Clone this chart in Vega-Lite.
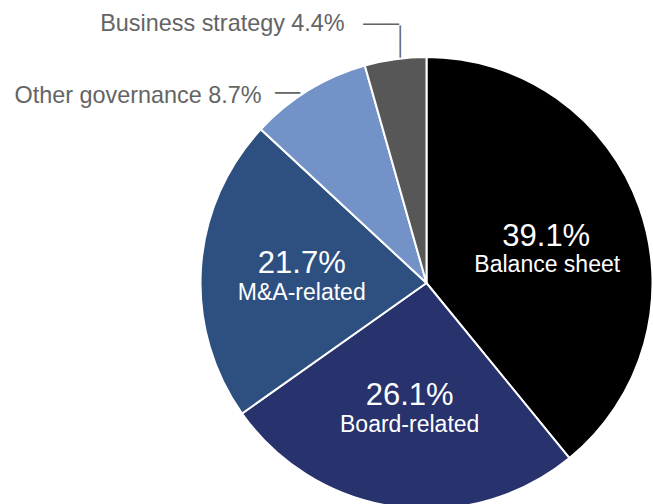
{
  "$schema": "https://vega.github.io/schema/vega-lite/v6.json",
  "autosize": {"type": "none"},
  "padding": {"left": 200, "top": 62, "right": 0, "bottom": 0},
  "width": 453,
  "height": 442,
  "background": "#ffffff",
  "config": {"view": {"stroke": null}},
  "data": {
    "values": [
      {"category": "Balance sheet", "share": 39.1},
      {"category": "Board-related", "share": 26.1},
      {"category": "M&A-related", "share": 21.7},
      {"category": "Other governance", "share": 8.7},
      {"category": "Business strategy", "share": 4.4}
    ]
  },
  "transform": [
    {"calculate": "format(datum.share, '.1f') + '%'", "as": "pctLabel"},
    {"calculate": "datum.category + ' ' + datum.pctLabel", "as": "outLabel"}
  ],
  "encoding": {
    "theta": {"field": "share", "type": "quantitative", "stack": true},
    "order": {"field": "share", "type": "quantitative", "sort": "descending"}
  },
  "layer": [
    {
      "mark": {"type": "arc", "outerRadius": 226, "stroke": "#ffffff", "strokeWidth": 2},
      "encoding": {
        "color": {
          "field": "category", "type": "nominal", "legend": null,
          "scale": {
            "domain": ["Balance sheet", "Board-related", "M&A-related", "Other governance", "Business strategy"],
            "range": ["#000000", "#28326c", "#2e5080", "#7393c8", "#575757"]
          }
        }
      }
    },
    {
      "mark": {"type": "text", "radius": 125, "font": "Liberation Sans", "fontSize": 31, "color": "#ffffff", "align": "center", "baseline": "middle", "dy": -11},
      "encoding": {
        "text": {"condition": {"test": "datum.share > 15 && datum.category != 'Balance sheet'", "field": "pctLabel"}, "value": ""}
      }
    },
    {
      "mark": {"type": "text", "radius": 125, "font": "Liberation Sans", "fontSize": 23, "color": "#ffffff", "align": "center", "baseline": "middle", "dy": 18},
      "encoding": {
        "text": {"condition": {"test": "datum.share > 15 && datum.category != 'Balance sheet'", "field": "category"}, "value": ""}
      }
    },
    {
      "mark": {"type": "text", "radius": 125, "font": "Liberation Sans", "fontSize": 31, "color": "#ffffff", "align": "center", "baseline": "middle", "dx": 2, "dy": -4},
      "encoding": {
        "text": {"condition": {"test": "datum.category == 'Balance sheet'", "field": "pctLabel"}, "value": ""}
      }
    },
    {
      "mark": {"type": "text", "radius": 125, "font": "Liberation Sans", "fontSize": 23, "color": "#ffffff", "align": "center", "baseline": "middle", "dx": 3, "dy": 24},
      "encoding": {
        "text": {"condition": {"test": "datum.category == 'Balance sheet'", "field": "category"}, "value": ""}
      }
    },
    {
      "mark": {"type": "text", "radius": 260, "font": "Liberation Sans", "fontSize": 23.4, "color": "#646464", "align": "right", "baseline": "alphabetic", "dx": -46, "dy": 6},
      "encoding": {
        "text": {"condition": {"test": "datum.category == 'Business strategy'", "field": "outLabel"}, "value": ""}
      }
    },
    {
      "mark": {"type": "text", "radius": 220, "font": "Liberation Sans", "fontSize": 23.4, "color": "#646464", "align": "right", "baseline": "alphabetic", "dx": -50, "dy": 8},
      "encoding": {
        "text": {"condition": {"test": "datum.category == 'Other governance'", "field": "outLabel"}, "value": ""}
      }
    },
    {
      "mark": {"type": "text", "radius": 260, "font": "DejaVu Sans", "fontSize": 19.8, "color": "#646464", "align": "left", "baseline": "middle", "dx": -27.4, "dy": 0},
      "encoding": {
        "text": {"condition": {"test": "datum.category == 'Business strategy'", "value": "───"}, "value": ""}
      }
    },
    {
      "mark": {"type": "text", "radius": 260, "angle": 90, "font": "DejaVu Sans", "fontSize": 17.7, "color": "#646464", "align": "left", "baseline": "middle", "dx": 0, "dy": -8.3},
      "encoding": {
        "text": {"condition": {"test": "datum.category == 'Business strategy'", "value": "───"}, "value": ""}
      }
    },
    {
      "mark": {"type": "text", "radius": 220, "font": "DejaVu Sans", "fontSize": 20.8, "color": "#646464", "align": "left", "baseline": "middle", "dx": -36.6, "dy": -1.4},
      "encoding": {
        "text": {"condition": {"test": "datum.category == 'Other governance'", "value": "──"}, "value": ""}
      }
    }
  ]
}
